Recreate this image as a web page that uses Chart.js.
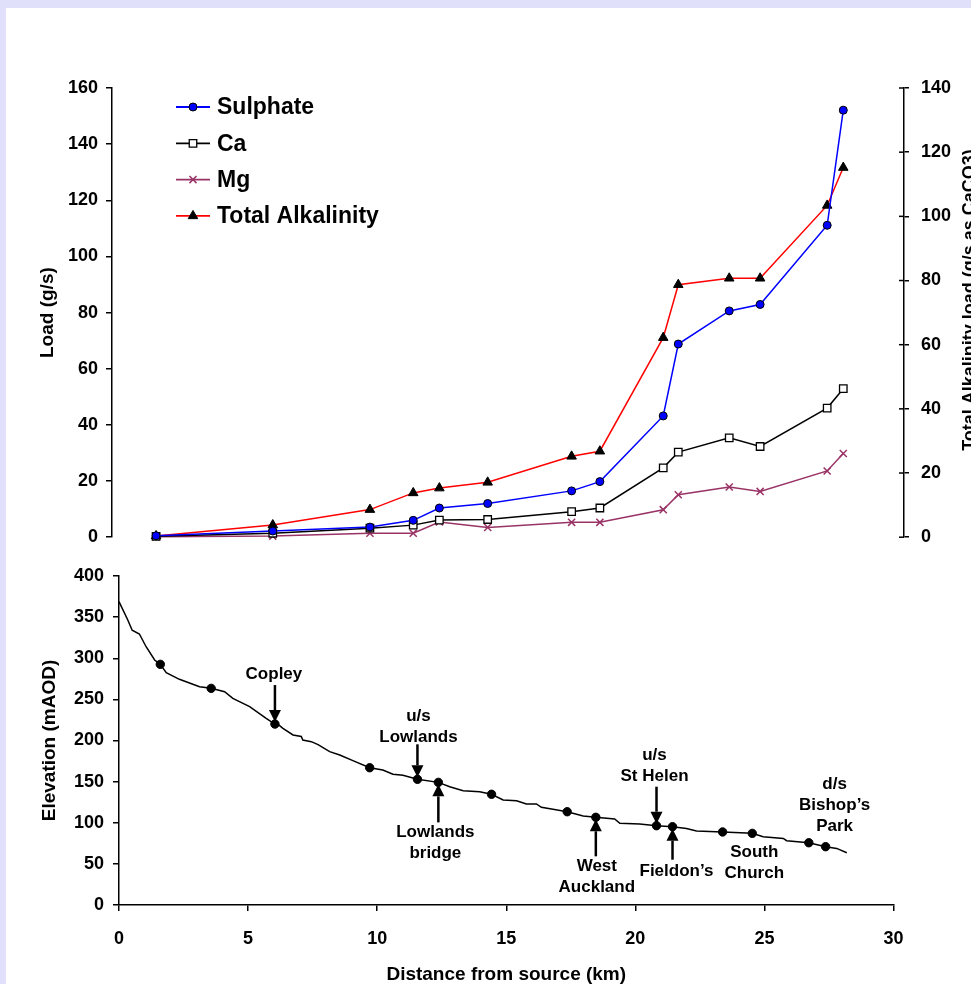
<!DOCTYPE html>
<html>
<head>
<meta charset="utf-8">
<script src="https://cdn.jsdelivr.net/npm/chart.js@4.4.0/dist/chart.umd.min.js"></script>
<style>
  html, body { margin: 0; padding: 0; }
  body { width: 971px; height: 984px; background: #e0e0fa; position: relative; overflow: hidden; }
  #sheet { position: absolute; left: 6px; top: 8px; right: 0; bottom: 0; background: #fff; }
  #loadChart { position: absolute; left: 0; top: 0; }
  #elevChart { position: absolute; left: 0; top: 555px; }
</style>
</head>
<body>
<div id="sheet"></div>
<canvas id="loadChart" width="971" height="560"></canvas>
<canvas id="elevChart" width="971" height="429"></canvas>
<script>
// --- top panel: loads at the sampling sites (km from source) ---
const loadKm     = [1.67, 6.09, 9.77, 11.41, 12.4, 14.23, 17.41, 18.48, 20.88, 21.45, 23.38, 24.55, 27.09, 27.7];
const sulphate   = [0.5, 2.2, 3.6, 6.0, 10.4, 12.0, 16.5, 19.8, 43.2, 68.8, 80.6, 82.9, 111.1, 152.1];
const calcium    = [0.3, 1.4, 3.2, 4.3, 6.1, 6.3, 9.1, 10.4, 24.7, 30.3, 35.4, 32.3, 46.0, 52.9];
const magnesium  = [0.2, 0.4, 1.4, 1.4, 5.4, 3.5, 5.3, 5.3, 9.8, 15.1, 17.9, 16.3, 23.6, 29.8];
const alkalinity = [0.4, 3.8, 8.6, 13.8, 15.3, 17.1, 25.2, 26.8, 62.2, 78.7, 80.7, 80.7, 103.4, 115.2];

// --- bottom panel: river long profile ---
const profileKm   = [0, 0.34, 0.51, 0.79, 1.05, 1.38, 1.6, 1.83, 2.34, 3.12, 3.57, 4.09, 4.41, 5.06, 5.7, 6.04, 6.2, 6.35, 6.74, 7.06, 7.12, 7.45, 7.71, 8.16, 8.55, 9.06, 9.71, 10.22, 10.61, 11.0, 11.56, 12.37, 12.81, 13.33, 13.97, 14.43, 14.88, 15.4, 15.78, 16.17, 16.36, 16.81, 17.36, 17.98, 18.47, 19.2, 19.4, 20.17, 20.82, 21.44, 21.98, 22.37, 23.38, 24.53, 24.95, 25.73, 25.86, 26.72, 27.37, 27.8, 28.19];
const profileElev = [368.8, 346.5, 334, 329.5, 314, 297.9, 292.6, 282.4, 274.4, 265.4, 263.4, 259.3, 251.3, 241.1, 227, 220, 218.5, 214.8, 206.7, 205, 200.6, 198.6, 195, 186.4, 182.4, 175.5, 166.9, 164.1, 158.9, 157.7, 152.8, 149.1, 143.8, 139.0, 137.8, 134.6, 127.7, 126.8, 122.8, 122.8, 118.8, 116.4, 113.4, 108.2, 106.6, 104.6, 99.3, 98.5, 96.4, 95.2, 93.1, 90.0, 88.8, 87.1, 83.0, 81.0, 78.2, 75.7, 70.9, 68.8, 63.6];
const siteKm   = [1.6, 3.57, 6.04, 9.71, 11.56, 12.37, 14.43, 17.36, 18.47, 20.82, 21.44, 23.38, 24.53, 26.72, 27.37];
const siteElev = [292.6, 263.4, 220, 166.9, 152.8, 149.1, 134.6, 113.4, 106.6, 96.4, 95.2, 88.8, 87.1, 75.7, 70.9];

// site names drawn on the profile (index into siteKm)
const siteLabels = [
  { site: 2,  lines: ['Copley'],                dx: -1, dy: -50, arrow: 'down', len: 37 },
  { site: 4,  lines: ['u/s', 'Lowlands'],       dx: 1,  dy: -63, arrow: 'down', len: 33 },
  { site: 5,  lines: ['Lowlands', 'bridge'],    dx: -3, dy: 50,  arrow: 'up',   len: 38 },
  { site: 8,  lines: ['West', 'Auckland'],      dx: 1,  dy: 49,  arrow: 'up',   len: 37 },
  { site: 9,  lines: ['u/s', 'St Helen'],       dx: -2, dy: -70, arrow: 'down', len: 37 },
  { site: 10, lines: ['Fieldon\u2019s'],        dx: 4,  dy: 45,  arrow: 'up',   len: 31 },
  { site: 12, lines: ['South', 'Church'],       dx: 2,  dy: 19,  arrow: null },
  { site: 14, lines: ['d/s', 'Bishop\u2019s', 'Park'], dx: 9, dy: -62, arrow: null }
];

const FONT = "'Liberation Sans', Arial, sans-serif";
Chart.defaults.font.family = FONT;
Chart.defaults.font.weight = 'bold';
Chart.defaults.color = '#000';

const xy = (xs, ys) => xs.map((x, i) => ({ x: x, y: ys[i] }));

const axisLine = { color: '#000', width: 1.5 };
const tickGrid = (len) => ({ drawOnChartArea: false, tickLength: len, color: '#000', lineWidth: 1.5 });

// legend drawn inside the plot area
const legendPlugin = {
  id: 'innerLegend',
  afterDraw(chart) {
    const ctx = chart.ctx;
    ctx.save();
    chart.data.datasets.forEach((ds, i) => {
      const y = 107 + i * 36.3;
      ctx.strokeStyle = ds.borderColor;
      ctx.lineWidth = 1.8;
      ctx.beginPath();
      ctx.moveTo(176, y);
      ctx.lineTo(210, y);
      ctx.stroke();
      ctx.fillStyle = ds.pointBackgroundColor;
      ctx.strokeStyle = ds.pointBorderColor;
      ctx.lineWidth = ds.pointBorderWidth;
      Chart.helpers.drawPoint(ctx, { pointStyle: ds.pointStyle, radius: ds.pointRadius, borderWidth: ds.pointBorderWidth, rotation: 0 }, 193, y);
      ctx.fillStyle = '#000';
      ctx.font = 'bold 23px ' + FONT;
      ctx.textAlign = 'left';
      ctx.textBaseline = 'middle';
      ctx.fillText(ds.label, 217, y + 1);
    });
    ctx.restore();
  }
};

// right axis: inner half of the crossing ticks + title reading upwards
const rightAxisPlugin = {
  id: 'rightAxisExtras',
  afterDraw(chart) {
    const ctx = chart.ctx;
    const s = chart.scales.y2;
    ctx.save();
    ctx.strokeStyle = '#000';
    ctx.lineWidth = 1.5;
    s.ticks.forEach(t => {
      const py = s.getPixelForValue(t.value);
      ctx.beginPath();
      ctx.moveTo(s.left - 5, py);
      ctx.lineTo(s.left, py);
      ctx.stroke();
    });
    ctx.translate(970, 300);
    ctx.rotate(-Math.PI / 2);
    ctx.font = 'bold 18px ' + FONT;
    ctx.textAlign = 'center';
    ctx.textBaseline = 'middle';
    ctx.fillStyle = '#000';
    ctx.fillText('Total Alkalinity load (g/s as CaCO3)', 0, 0);
    ctx.restore();
  }
};

new Chart(document.getElementById('loadChart'), {
  type: 'line',
  data: {
    datasets: [
      { label: 'Sulphate', data: xy(loadKm, sulphate), yAxisID: 'y',
        borderColor: '#0000ff', backgroundColor: '#0000ff', borderWidth: 1.5,
        pointStyle: 'circle', pointRadius: 4, pointBackgroundColor: '#0000ff', pointBorderColor: '#000', pointBorderWidth: 1 },
      { label: 'Ca', data: xy(loadKm, calcium), yAxisID: 'y',
        borderColor: '#000000', backgroundColor: '#ffffff', borderWidth: 1.5,
        pointStyle: 'rect', pointRadius: 5.3, pointBackgroundColor: '#ffffff', pointBorderColor: '#000', pointBorderWidth: 1.3 },
      { label: 'Mg', data: xy(loadKm, magnesium), yAxisID: 'y',
        borderColor: '#993366', backgroundColor: '#993366', borderWidth: 1.5,
        pointStyle: 'crossRot', pointRadius: 5, pointBackgroundColor: '#993366', pointBorderColor: '#993366', pointBorderWidth: 1.5 },
      { label: 'Total Alkalinity', data: xy(loadKm, alkalinity), yAxisID: 'y2',
        borderColor: '#ff0000', backgroundColor: '#000000', borderWidth: 1.5,
        pointStyle: 'triangle', pointRadius: 5.5, pointBackgroundColor: '#000000', pointBorderColor: '#000', pointBorderWidth: 1 }
    ]
  },
  options: {
    responsive: false,
    animation: false,
    events: [],
    clip: false,
    layout: { padding: { top: 88, bottom: 17, left: 0, right: 0 } },
    plugins: { legend: { display: false }, tooltip: { enabled: false } },
    elements: { line: { tension: 0 } },
    scales: {
      x: { type: 'linear', display: false, min: 0, max: 30 },
      y: {
        position: 'left', min: 0, max: 160,
        ticks: { stepSize: 20, padding: 8, font: { size: 18 } },
        grid: tickGrid(6), border: axisLine,
        title: { display: true, text: 'Load (g/s)', font: { size: 19, lineHeight: 1 }, padding: { top: 38, bottom: 0 } },
        afterFit: (s) => { s.width = 112; }
      },
      y2: {
        position: 'right', min: 0, max: 140,
        ticks: { stepSize: 20, padding: 12, font: { size: 18 } },
        grid: tickGrid(5), border: axisLine,
        afterFit: (s) => { s.width = 67; }
      }
    }
  },
  plugins: [legendPlugin, rightAxisPlugin]
});

// arrows and site names on the profile
const siteLabelPlugin = {
  id: 'siteLabels',
  afterDatasetsDraw(chart) {
    const ctx = chart.ctx;
    const sx = chart.scales.x, sy = chart.scales.y;
    ctx.save();
    ctx.fillStyle = '#000';
    ctx.strokeStyle = '#000';
    ctx.font = 'bold 17px ' + FONT;
    ctx.textAlign = 'center';
    ctx.textBaseline = 'middle';
    siteLabels.forEach(l => {
      const px = sx.getPixelForValue(siteKm[l.site]);
      const py = sy.getPixelForValue(siteElev[l.site]);
      if (l.arrow) {
        const dir = l.arrow === 'down' ? -1 : 1;
        const tip = py + dir * 2;
        const tail = tip + dir * l.len;
        const base = tip + dir * 12;
        ctx.lineWidth = 2.5;
        ctx.beginPath();
        ctx.moveTo(px, tail);
        ctx.lineTo(px, base);
        ctx.stroke();
        ctx.beginPath();
        ctx.moveTo(px, tip);
        ctx.lineTo(px - 6, base);
        ctx.lineTo(px + 6, base);
        ctx.closePath();
        ctx.fill();
      }
      l.lines.forEach((t, k) => {
        ctx.fillText(t, px + l.dx, py + l.dy + k * 21);
      });
    });
    ctx.restore();
  }
};

new Chart(document.getElementById('elevChart'), {
  type: 'line',
  data: {
    datasets: [
      { label: 'Sites', data: xy(siteKm, siteElev), showLine: false,
        pointStyle: 'circle', pointRadius: 4.2, pointBackgroundColor: '#000', pointBorderColor: '#000', pointBorderWidth: 1 },
      { label: 'Profile', data: xy(profileKm, profileElev), borderColor: '#000', borderWidth: 1.5, pointRadius: 0 }
    ]
  },
  options: {
    responsive: false,
    animation: false,
    events: [],
    clip: false,
    layout: { padding: { top: 21, bottom: 0, left: 0, right: 77.5 } },
    plugins: { legend: { display: false }, tooltip: { enabled: false } },
    elements: { line: { tension: 0 } },
    scales: {
      x: {
        type: 'linear', min: 0, max: 30,
        ticks: { stepSize: 5, padding: 17, font: { size: 18 } },
        grid: tickGrid(6), border: axisLine,
        title: { display: true, text: 'Distance from source (km)', font: { size: 19, lineHeight: 1 }, padding: { top: 0, bottom: 0 } },
        afterFit: (s) => { s.height = 79; }
      },
      y: {
        min: 0, max: 400,
        ticks: { stepSize: 50, padding: 9, font: { size: 18 } },
        grid: tickGrid(6), border: axisLine,
        title: { display: true, text: 'Elevation (mAOD)', font: { size: 19, lineHeight: 1 }, padding: { top: 40, bottom: 0 } },
        afterFit: (s) => { s.width = 119; }
      }
    }
  },
  plugins: [siteLabelPlugin]
});
</script>
</body>
</html>
